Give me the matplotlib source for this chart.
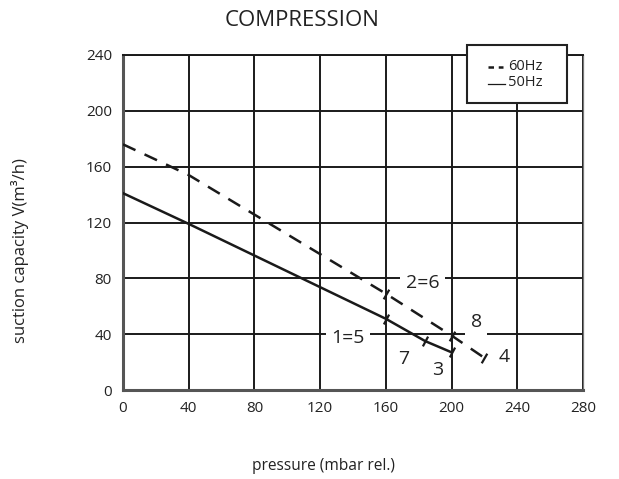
import matplotlib
matplotlib.use("Agg")
import matplotlib.pyplot as plt
from matplotlib.lines import Line2D
from matplotlib.patches import Rectangle

plt.rcParams['font.family'] = ['Open Sans', 'DejaVu Sans']

# data
p60 = [0, 40, 160, 200, 220]
v60 = [176, 154, 69, 39, 23]
p50 = [0, 40, 160, 184, 200]
v50 = [141, 119, 51, 35, 27]
marks60 = [160, 200, 220]
marks60_v = [69, 39, 23]
marks50 = [160, 184, 200]
marks50_v = [51, 35, 27]
labels = ["2=6", "1=5", "8", "4", "7", "3"]
label_x = [182.5, 137, 215, 232, 171, 191.5]
label_y = [76.5, 37, 49, 23.5, 22, 14]
legend_labels = ['60Hz', '50Hz']
xticks = [0, 40, 80, 120, 160, 200, 240, 280]
yticks = [0, 40, 80, 120, 160, 200, 240]

W, H = 619, 479
fig = plt.figure(figsize=(W/100, H/100), dpi=100)
ax = fig.add_axes([123/W, 89/H, 460/W, 335/H])
ax.set_xlim(0, 280)
ax.set_ylim(0, 240)
ax.set_xticks(xticks)
ax.set_yticks(yticks)
ax.tick_params(length=0, labelsize=11, pad=8, labelcolor='#222222')
ax.grid(True, color='#1a1a1a', linewidth=1.4, zorder=0)
for s in ['left', 'bottom']:
    ax.spines[s].set_color('#555555')
    ax.spines[s].set_linewidth(2.2)
ax.spines['top'].set_color('#1a1a1a')
ax.spines['top'].set_linewidth(1.4)
ax.spines['right'].set_color('#777777')
ax.spines['right'].set_linewidth(0.9)

ax.plot(p60, v60, color='#1a1a1a', lw=1.8, ls=(0, (5.5, 4)), zorder=3)
ax.plot(p50, v50, color='#1a1a1a', lw=1.8, zorder=3)
ax.plot(marks60, marks60_v, ls='none', marker=(2, 0, -30), ms=8, mew=1.6,
        color='#1a1a1a', zorder=4)
ax.plot(marks50, marks50_v, ls='none', marker=(2, 0, -28), ms=8, mew=1.6,
        color='#1a1a1a', zorder=4)

for t, x, y in zip(labels, label_x, label_y):
    ax.text(x, y, t, ha='center', va='center', fontsize=14, color='#222222',
            zorder=2, bbox=dict(facecolor='white', edgecolor='none', pad=4))

# legend box (drawn manually, in figure pixels)
def fx(px):
    return px / W
def fy(py):
    return 1 - py / H

fig.patches.append(Rectangle((fx(467), fy(103)), 100/W, 58/H,
                             transform=fig.transFigure, facecolor='white',
                             edgecolor='#222222', linewidth=1.5, zorder=10))
fig.lines.append(Line2D([fx(488), fx(503)], [fy(67), fy(67)],
                        transform=fig.transFigure, color='#1a1a1a', lw=1.8,
                        ls=(0, (2.2, 1.9)), zorder=11))
fig.lines.append(Line2D([fx(488), fx(505)], [fy(84), fy(84)],
                        transform=fig.transFigure, color='#1a1a1a', lw=0.9,
                        zorder=11))
fig.text(fx(508), fy(66), legend_labels[0], ha='left', va='center',
         fontsize=10.5, color='#222222', zorder=11)
fig.text(fx(508), fy(83), legend_labels[1], ha='left', va='center',
         fontsize=10.5, color='#222222', zorder=11)

fig.text(302/W, 1 - 20/H, 'COMPRESSION', ha='center', va='center',
         fontsize=16, color='#222222')
fig.text(323/W, 1 - 466/H, 'pressure (mbar rel.)', ha='center',
         va='center', fontsize=11.2, color='#222222')
fig.text(20/W, 1 - 251/H, 'suction capacity V(m³/h)', ha='center',
         va='center', rotation=90, fontsize=12, color='#222222')

fig.savefig('out.png', dpi=100)
